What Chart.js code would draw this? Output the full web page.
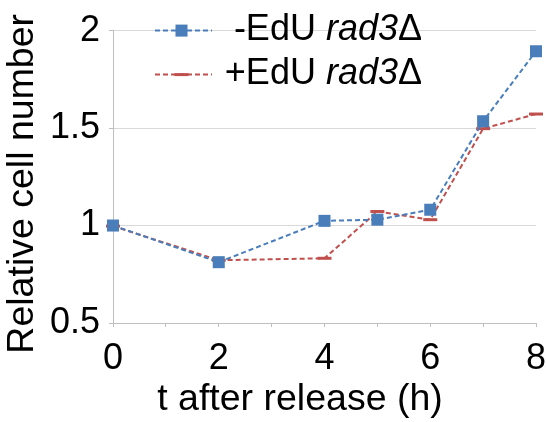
<!DOCTYPE html>
<html><head><meta charset="utf-8">
<script src="https://cdn.jsdelivr.net/npm/chart.js@4"></script>
<style>html,body{margin:0;padding:0;background:#fff}</style>
</head><body>
<canvas id="c" width="546" height="422"></canvas>
<script>
const hours = [0, 2, 4, 5, 6, 7, 8];
const minusEdU = [1.0, 0.812, 1.024, 1.03, 1.081, 1.535, 1.894];
const plusEdU = [0.997, 0.822, 0.832, 1.072, 1.03, 1.497, 1.572];
const xTickLabels = [0, 2, 4, 6, 8];
const yTickLabels = [0.5, 1, 1.5, 2];
const seriesPrefix = ['-EdU ', '+EdU '];
const geneName = 'rad3';
const deltaSign = 'Δ';
const xTitle = 't after release (h)';
const yTitle = 'Relative cell number';

const FONT = '"Liberation Sans", Arial, sans-serif';
const FS = 36;
const TFS = 37.5;
const BLUE = '#4A7EBB';
const RED = '#C0504D';
const AXIS = '#BFBFBF';
const GRID = '#D9D9D9';

const legendPlugin = {
  id: 'customLegend',
  afterDatasetsDraw(chart) {
    const ctx = chart.ctx;
    const ca = chart.chartArea;
    const x0 = ca.left + 42, x1 = ca.left + 99;
    const rows = [ca.top, ca.top + 44];
    const textEnd = ca.left + 309;
    chart.data.datasets.forEach((ds, i) => {
      const y = rows[i];
      ctx.save();
      ctx.strokeStyle = ds.borderColor;
      ctx.lineWidth = ds.borderWidth;
      ctx.setLineDash(ds.borderDash);
      ctx.beginPath(); ctx.moveTo(x0, y); ctx.lineTo(x1, y); ctx.stroke();
      ctx.setLineDash([]);
      const cx = (x0 + x1) / 2 - 2;
      if (ds.pointStyle === 'rect') {
        const s = ds.pointRadius * Math.SQRT1_2;
        ctx.fillStyle = ds.pointBackgroundColor;
        ctx.fillRect(cx - s, y - s, 2 * s, 2 * s);
      } else {
        ctx.strokeStyle = ds.pointBorderColor;
        ctx.lineWidth = ds.pointBorderWidth;
        ctx.beginPath(); ctx.moveTo(cx - ds.pointRadius, y); ctx.lineTo(cx + ds.pointRadius, y); ctx.stroke();
      }
      ctx.fillStyle = '#000';
      ctx.textBaseline = 'alphabetic';
      ctx.textAlign = 'left';
      const by = y + 9;
      const fN = FS + 'px ' + FONT, fI = 'italic ' + FS + 'px ' + FONT;
      ctx.font = fN; const w1 = ctx.measureText(seriesPrefix[i]).width, w3 = ctx.measureText(deltaSign).width;
      ctx.font = fI; const w2 = ctx.measureText(geneName).width;
      let tx = textEnd - (w1 + w2 + w3);
      ctx.font = fN; ctx.fillText(seriesPrefix[i], tx, by); tx += w1;
      ctx.font = fI; ctx.fillText(geneName, tx, by); tx += w2;
      ctx.font = fN; ctx.fillText(deltaSign, tx, by);
      ctx.restore();
    });
  }
};

const titlePlugin = {
  id: 'axisTitles',
  afterDraw(chart) {
    const ctx = chart.ctx;
    const ca = chart.chartArea;
    ctx.save();
    ctx.fillStyle = '#000';
    ctx.font = TFS + 'px ' + FONT;
    ctx.textAlign = 'center';
    ctx.textBaseline = 'alphabetic';
    ctx.fillText(xTitle, ca.left + 187, chart.height - 12);
    ctx.translate(33, (ca.top + ca.bottom) / 2 + 7);
    ctx.rotate(-Math.PI / 2);
    ctx.fillText(yTitle, 0, 0);
    ctx.restore();
  }
};

new Chart(document.getElementById('c'), {
  type: 'line',
  data: {
    datasets: [
      {
        label: seriesPrefix[0] + geneName + deltaSign,
        data: hours.map((h, i) => ({x: h, y: minusEdU[i]})),
        borderColor: BLUE, borderWidth: 2, borderDash: [5, 3],
        pointStyle: 'rect', pointRadius: 8.5, pointBackgroundColor: BLUE,
        pointBorderColor: BLUE, pointBorderWidth: 0, clip: false, tension: 0
      },
      {
        label: seriesPrefix[1] + geneName + deltaSign,
        data: hours.map((h, i) => ({x: h, y: plusEdU[i]})),
        borderColor: RED, borderWidth: 2, borderDash: [5, 3],
        pointStyle: 'line', pointRadius: 7, pointBackgroundColor: RED,
        pointBorderColor: RED, pointBorderWidth: 3, clip: false, tension: 0
      }
    ]
  },
  options: {
    responsive: false,
    animation: false,
    devicePixelRatio: 1,
    layout: {padding: {top: 25, right: 0, left: 0, bottom: 0}},
    plugins: {legend: {display: false}, tooltip: {enabled: false}},
    scales: {
      x: {
        type: 'linear', min: 0, max: 8,
        afterFit(s) { s.height = 99; s.paddingRight = 10; s.paddingLeft = 0; },
        afterBuildTicks(s) { s.ticks = hours.concat([1, 3]).sort((a, b) => a - b).map(v => ({value: v})); },
        ticks: {
          callback: v => xTickLabels.includes(v) ? String(v) : '',
          font: {family: FONT, size: FS}, color: '#000', padding: 10, maxRotation: 0, autoSkip: false
        },
        grid: {drawOnChartArea: false, drawTicks: true, tickLength: 4, color: AXIS},
        border: {color: AXIS, width: 1},
        title: {display: false}
      },
      y: {
        min: 0.5, max: 2,
        afterFit(s) { s.width = 113; },
        afterBuildTicks(s) { s.ticks = yTickLabels.map(v => ({value: v})); },
        ticks: {
          callback: v => String(v),
          font: {family: FONT, size: FS}, color: '#000', padding: 9
        },
        grid: {color: GRID, tickColor: AXIS, tickLength: 4},
        border: {color: AXIS, width: 1},
        title: {display: false}
      }
    }
  },
  plugins: [legendPlugin, titlePlugin]
});
</script>
</body></html>
